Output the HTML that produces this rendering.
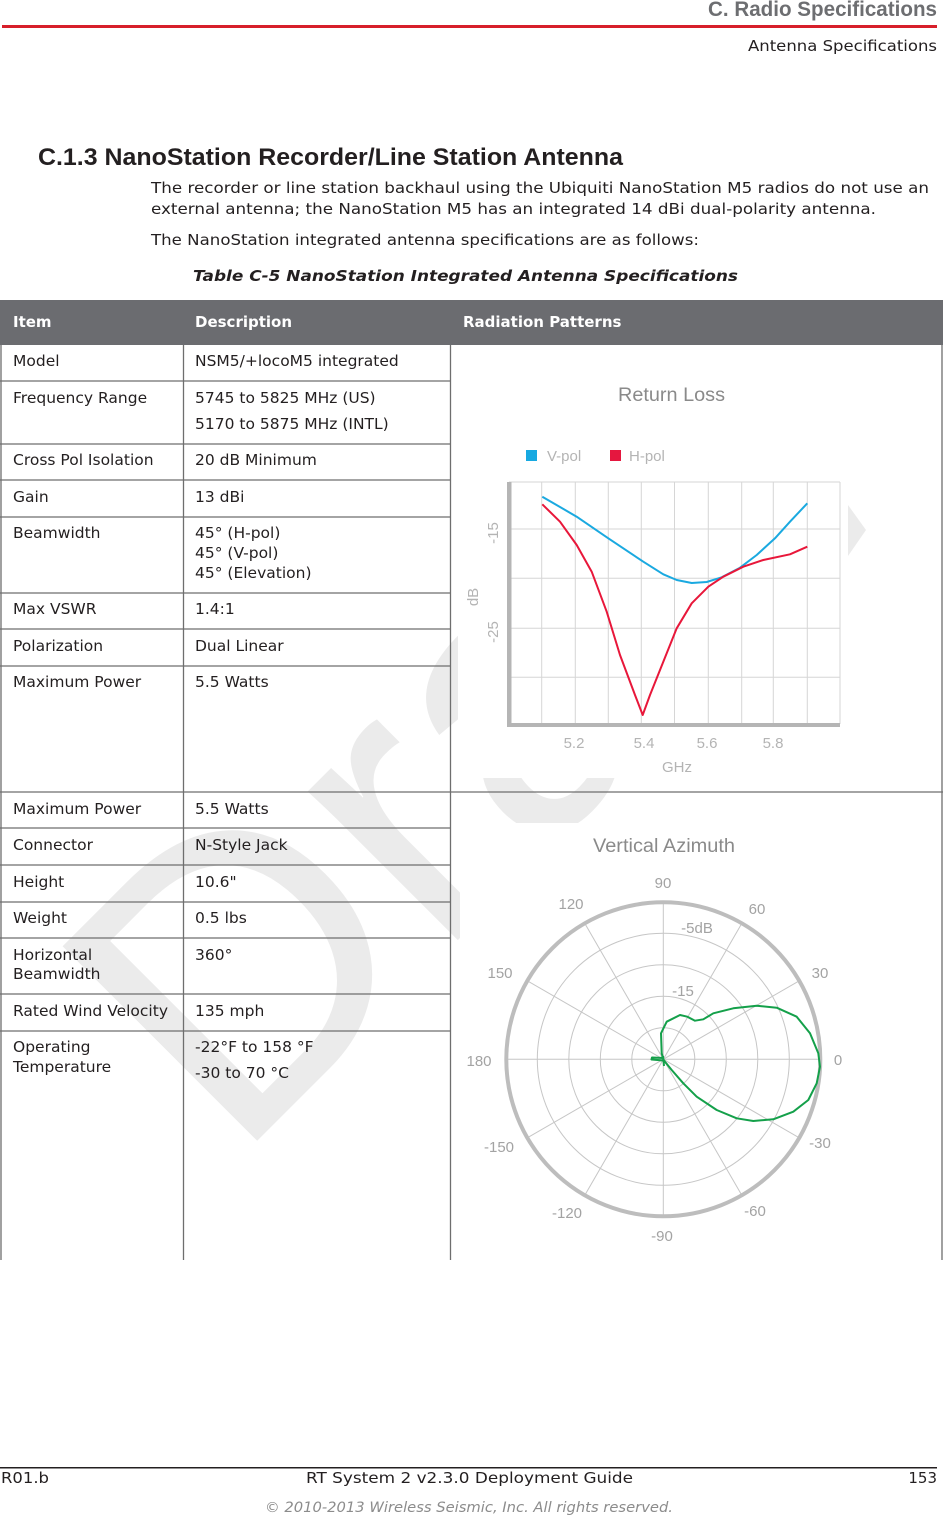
<!DOCTYPE html>
<html><head><meta charset="utf-8">
<style>
html,body{margin:0;padding:0;background:#fff;}
svg{display:block;}
.b{font-family:"DejaVu Sans","Liberation Sans",sans-serif;font-size:15px;fill:#231f20;}
.t{font-family:"DejaVu Sans","Liberation Sans",sans-serif;font-size:15.5px;fill:#231f20;}
.hb{font-family:"DejaVu Sans","Liberation Sans",sans-serif;font-size:15px;font-weight:bold;fill:#ffffff;}
.c{font-family:"Liberation Sans",sans-serif;font-size:15px;fill:#b4b4b4;}
.p{font-family:"Liberation Sans",sans-serif;font-size:15px;fill:#a3a3a3;}
</style></head><body>
<svg width="943" height="1516" viewBox="0 0 943 1516" xmlns="http://www.w3.org/2000/svg">
<rect width="943" height="1516" fill="#fff"/>

<!-- watermark -->
<text x="234" y="1164" transform="rotate(-45 234 1164)" font-family="Liberation Sans, sans-serif" font-size="400" fill="#ebebeb">Draft</text>
<polygon points="848,505 866,530 848,556" fill="#ebebeb"/>

<!-- chart image backgrounds -->
<rect x="458" y="378" width="390" height="400" fill="#fff"/>
<rect x="460" y="823" width="390" height="436" fill="#fff"/>

<!-- page header -->
<text x="937" y="16" text-anchor="end" font-family="Liberation Sans, sans-serif" font-weight="bold" font-size="21" fill="#6d6e71" textLength="229" lengthAdjust="spacingAndGlyphs">C. Radio Specifications</text>
<rect x="2" y="25" width="935" height="3" fill="#d71f2a"/>
<text class="b" x="937" y="51" text-anchor="end" textLength="189" lengthAdjust="spacingAndGlyphs">Antenna Specifications</text>

<!-- heading & paragraphs -->
<text x="38" y="165" font-family="Liberation Sans, sans-serif" font-weight="bold" font-size="24" fill="#231f20" textLength="585" lengthAdjust="spacingAndGlyphs">C.1.3 NanoStation Recorder/Line Station Antenna</text>
<text class="b" x="151" y="193" textLength="778" lengthAdjust="spacingAndGlyphs">The recorder or line station backhaul using the Ubiquiti NanoStation M5 radios do not use an</text>
<text class="b" x="151" y="214" textLength="725" lengthAdjust="spacingAndGlyphs">external antenna; the NanoStation M5 has an integrated 14 dBi dual-polarity antenna.</text>
<text class="b" x="151" y="245" textLength="548" lengthAdjust="spacingAndGlyphs">The NanoStation integrated antenna specifications are as follows:</text>
<text class="b" x="193" y="281" font-weight="bold" font-style="italic" textLength="545" lengthAdjust="spacingAndGlyphs">Table C-5  NanoStation Integrated Antenna Specifications</text>

<!-- table header -->
<rect x="0" y="300" width="943" height="45" fill="#6b6c70"/>
<text class="hb" x="13" y="327">Item</text>
<text class="hb" x="195" y="327">Description</text>
<text class="hb" x="463" y="327">Radiation Patterns</text>

<!-- table lines -->
<g stroke="#6e6e6e" stroke-width="1.3">
<line x1="1" y1="345" x2="1" y2="1260"/>
<line x1="183.5" y1="345" x2="183.5" y2="1260"/>
<line x1="450.5" y1="345" x2="450.5" y2="1260"/>
<line x1="942" y1="345" x2="942" y2="1260"/>
<line x1="0" y1="381" x2="450" y2="381"/>
<line x1="0" y1="444" x2="450" y2="444"/>
<line x1="0" y1="480" x2="450" y2="480"/>
<line x1="0" y1="517" x2="450" y2="517"/>
<line x1="0" y1="593" x2="450" y2="593"/>
<line x1="0" y1="629" x2="450" y2="629"/>
<line x1="0" y1="666" x2="450" y2="666"/>
<line x1="0" y1="792" x2="943" y2="792"/>
<line x1="0" y1="828" x2="450" y2="828"/>
<line x1="0" y1="865" x2="450" y2="865"/>
<line x1="0" y1="902" x2="450" y2="902"/>
<line x1="0" y1="938" x2="450" y2="938"/>
<line x1="0" y1="994" x2="450" y2="994"/>
<line x1="0" y1="1031" x2="450" y2="1031"/>
</g>

<!-- table text -->
<g class="t">
<text x="13" y="366">Model</text><text x="195" y="366">NSM5/+locoM5 integrated</text>
<text x="13" y="403">Frequency Range</text><text x="195" y="403">5745 to 5825 MHz (US)</text>
<text x="195" y="429">5170 to 5875 MHz (INTL)</text>
<text x="13" y="465">Cross Pol Isolation</text><text x="195" y="465">20 dB Minimum</text>
<text x="13" y="502">Gain</text><text x="195" y="502">13 dBi</text>
<text x="13" y="538">Beamwidth</text><text x="195" y="538">45° (H-pol)</text>
<text x="195" y="558">45° (V-pol)</text>
<text x="195" y="578">45° (Elevation)</text>
<text x="13" y="614">Max VSWR</text><text x="195" y="614">1.4:1</text>
<text x="13" y="651">Polarization</text><text x="195" y="651">Dual Linear</text>
<text x="13" y="687">Maximum Power</text><text x="195" y="687">5.5 Watts</text>
<text x="13" y="814">Maximum Power</text><text x="195" y="814">5.5 Watts</text>
<text x="13" y="850">Connector</text><text x="195" y="850">N-Style Jack</text>
<text x="13" y="887">Height</text><text x="195" y="887">10.6"</text>
<text x="13" y="923">Weight</text><text x="195" y="923">0.5 lbs</text>
<text x="13" y="960">Horizontal</text><text x="195" y="960">360°</text>
<text x="13" y="979">Beamwidth</text>
<text x="13" y="1016">Rated Wind Velocity</text><text x="195" y="1016">135 mph</text>
<text x="13" y="1052">Operating</text><text x="195" y="1052">-22°F to 158 °F</text>
<text x="13" y="1072">Temperature</text><text x="195" y="1078">-30 to 70 °C</text>
</g>

<!-- Return Loss chart -->
<text x="671.5" y="401" text-anchor="middle" font-family="Liberation Sans, sans-serif" font-size="19" fill="#8a8a8a" textLength="107" lengthAdjust="spacingAndGlyphs">Return Loss</text>
<rect x="526" y="450" width="11" height="11" fill="#17a9e1"/>
<text class="c" x="547" y="461" font-size="16">V-pol</text>
<rect x="610" y="450" width="11" height="11" fill="#e5173f"/>
<text class="c" x="629" y="461" font-size="16">H-pol</text>
<g stroke="#d6d6d6" stroke-width="1">
<line x1="541.7" y1="482" x2="541.7" y2="724"/>
<line x1="575.3" y1="482" x2="575.3" y2="724"/>
<line x1="608.3" y1="482" x2="608.3" y2="724"/>
<line x1="641.3" y1="482" x2="641.3" y2="724"/>
<line x1="674.5" y1="482" x2="674.5" y2="724"/>
<line x1="708.3" y1="482" x2="708.3" y2="724"/>
<line x1="741.7" y1="482" x2="741.7" y2="724"/>
<line x1="773.3" y1="482" x2="773.3" y2="724"/>
<line x1="807.3" y1="482" x2="807.3" y2="724"/>
<line x1="840" y1="482" x2="840" y2="724"/>
<line x1="509" y1="482" x2="840" y2="482"/>
<line x1="509" y1="529" x2="840" y2="529"/>
<line x1="509" y1="578.3" x2="840" y2="578.3"/>
<line x1="509" y1="628.3" x2="840" y2="628.3"/>
<line x1="509" y1="677.3" x2="840" y2="677.3"/>
</g>
<rect x="507" y="482" width="4.5" height="245" fill="#b5b5b5"/>
<rect x="507" y="723" width="333" height="4" fill="#b5b5b5"/>
<text class="c" transform="translate(498,533) rotate(-90)" text-anchor="middle">-15</text>
<text class="c" transform="translate(498,632) rotate(-90)" text-anchor="middle">-25</text>
<text class="c" transform="translate(478,597) rotate(-90)" text-anchor="middle">dB</text>
<text class="c" x="574" y="748" text-anchor="middle">5.2</text>
<text class="c" x="644" y="748" text-anchor="middle">5.4</text>
<text class="c" x="707" y="748" text-anchor="middle">5.6</text>
<text class="c" x="773" y="748" text-anchor="middle">5.8</text>
<text class="c" x="677" y="772" text-anchor="middle">GHz</text>
<polyline fill="none" stroke="#1aa9e0" stroke-width="2" stroke-linejoin="round" points="542.3,496.7 576.7,516.7 608.3,538.3 643.3,561.7 663.3,574.3 676.7,580 691.7,583 706.7,582 721.7,577.3 740,567.7 756.7,555 775,538.3 790,521.7 807.3,503.3"/>
<polyline fill="none" stroke="#e8173a" stroke-width="2" stroke-linejoin="round" points="542.3,504.3 560,521.7 576.7,545 591.7,571.7 606.7,611.7 620,655 635,695 642.7,715 650,695 663.3,661.7 676.7,628.3 691.7,603.3 708.3,586.7 723.3,576.7 743.3,566.7 763.3,560 790,554.3 807.3,546.7"/>

<!-- Vertical Azimuth chart -->
<text x="664" y="852" text-anchor="middle" font-family="Liberation Sans, sans-serif" font-size="19" fill="#8a8a8a" textLength="142" lengthAdjust="spacingAndGlyphs">Vertical Azimuth</text>
<g fill="none" stroke="#c6c6c6" stroke-width="1">
<circle cx="663.3" cy="1059.3" r="31.5"/>
<circle cx="663.3" cy="1059.3" r="63"/>
<circle cx="663.3" cy="1059.3" r="94.5"/>
<circle cx="663.3" cy="1059.3" r="126"/>
<line x1="507.3" y1="1059.3" x2="819.3" y2="1059.3"/>
<line x1="798.4" y1="981.3" x2="528.2" y2="1137.3"/>
<line x1="741.3" y1="924.2" x2="585.3" y2="1194.4"/>
<line x1="663.3" y1="903.3" x2="663.3" y2="1215.3"/>
<line x1="585.3" y1="924.2" x2="741.3" y2="1194.4"/>
<line x1="528.2" y1="981.3" x2="798.4" y2="1137.3"/>
</g>
<circle cx="663.3" cy="1059.3" r="157" fill="none" stroke="#bdbdbd" stroke-width="4"/>
<g class="p" text-anchor="middle">
<text x="663" y="888">90</text>
<text x="757" y="914">60</text>
<text x="820" y="978">30</text>
<text x="838" y="1065">0</text>
<text x="820" y="1148">-30</text>
<text x="755" y="1216">-60</text>
<text x="662" y="1241">-90</text>
<text x="567" y="1218">-120</text>
<text x="499" y="1152">-150</text>
<text x="479" y="1066">180</text>
<text x="500" y="978">150</text>
<text x="571" y="909">120</text>
<text x="697" y="933">-5dB</text>
<text x="683" y="996">-15</text>
</g>
<path fill="none" stroke="#14a04a" stroke-width="2" stroke-linejoin="round" d="M663.3,1059.3 L661.7,1053.3 L661,1033.3 L666.7,1021.7 L680,1015 L687.3,1016.7 L695,1020.7 L703.3,1019.3 L713.3,1013.3 L733.3,1008.3 L756.7,1005.7 L776.7,1007.7 L796.7,1016.7 L810,1033.3 L818.3,1053.3 L820,1066.7 L816.7,1083.3 L808.3,1100 L793.3,1111.7 L773.3,1119.3 L753.3,1121 L736.7,1118.3 L716.7,1110 L696.7,1096.7 L683.3,1083.3 L671.7,1070 L665,1061.7 Z M663.3,1058 L652,1057.5 L651.5,1059.5 L663.3,1060.5 M663,1056 L664,1066"/>

<!-- footer -->
<rect x="0" y="1467" width="937" height="1.5" fill="#231f20"/>
<text class="b" x="1" y="1483" textLength="48" lengthAdjust="spacingAndGlyphs">R01.b</text>
<text class="b" x="306" y="1483" textLength="327" lengthAdjust="spacingAndGlyphs">RT System 2 v2.3.0 Deployment Guide</text>
<text class="b" x="937" y="1483" text-anchor="end">153</text>
<text x="265" y="1512" font-family="DejaVu Sans, sans-serif" font-size="14" font-style="italic" fill="#8c8c8c" textLength="408" lengthAdjust="spacingAndGlyphs">© 2010-2013 Wireless Seismic, Inc. All rights reserved.</text>
</svg>
</body></html>
